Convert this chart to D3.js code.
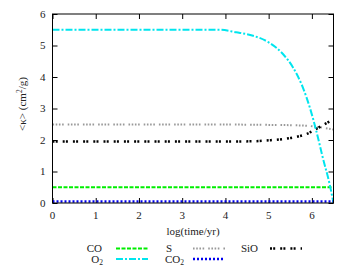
<!DOCTYPE html>
<html>
<head>
<meta charset="utf-8">
<script src="https://cdn.jsdelivr.net/npm/d3@7"></script>
<style>
  body { margin: 0; background: #fff; }
</style>
</head>
<body>
<div class="chart"></div>
<script>
// log(time/yr) samples and mean opacity <kappa> for each species
var xTicks = [0, 1, 2, 3, 4, 5, 6];
var yTicks = [0, 1, 2, 3, 4, 5, 6];

var coX = [0, 6.5];
var coY = [0.5, 0.5];

var o2X = [0, 1, 2, 3, 3.87, 4.25, 4.64, 5.0, 5.33, 5.56, 5.79, 5.95, 6.1, 6.25, 6.41, 6.49, 6.5];
var o2Y = [5.5, 5.5, 5.5, 5.5, 5.5, 5.42, 5.31, 5.1, 4.73, 4.31, 3.67, 3.04, 2.3, 1.45, 0.6, 0.07, 0];

var sX = [0, 1, 2, 3, 4, 5, 5.5, 5.9, 6.1, 6.3, 6.5];
var sY = [2.49, 2.49, 2.49, 2.49, 2.49, 2.48, 2.47, 2.45, 2.42, 2.38, 2.33];

var sioX = [0, 1, 2, 3, 4, 4.64, 5.0, 5.33, 5.64, 5.87, 6.1, 6.37, 6.5];
var sioY = [1.95, 1.95, 1.95, 1.95, 1.95, 1.96, 1.99, 2.03, 2.1, 2.19, 2.35, 2.56, 2.66];

var co2X = [0, 6.5];
var co2Y = [0.05, 0.05];

var w = 350, h = 271;
var pLeft = 52.5, pRight = 333.5, pTop = 14, pBottom = 203;

var svg = d3.select(".chart").append("svg")
    .attr("width", w).attr("height", h)
    .attr("font-family", "'Liberation Serif', 'Times New Roman', serif")
    .attr("fill", "#222");

var x = d3.scaleLinear().domain([0, 6.5]).range([pLeft, pRight]);
var y = d3.scaleLinear().domain([0, 6]).range([pBottom, pTop]);

svg.append("defs").append("clipPath").attr("id", "clip")
  .append("rect").attr("x", pLeft).attr("y", pTop - 2)
  .attr("width", pRight - pLeft).attr("height", pBottom - pTop + 2);

// ticks, mirrored inside on all four sides like gnuplot
var tk = 5;
svg.append("g").attr("transform", `translate(0,${pBottom})`)
  .call(d3.axisTop(x).tickValues(xTicks).tickSize(tk).tickFormat(""))
  .call(g => g.select(".domain").remove());
svg.append("g").attr("transform", `translate(0,${pTop})`)
  .call(d3.axisBottom(x).tickValues(xTicks).tickSize(tk).tickFormat(""))
  .call(g => g.select(".domain").remove());
svg.append("g").attr("transform", `translate(${pLeft},0)`)
  .call(d3.axisRight(y).tickValues(yTicks).tickSize(tk).tickFormat(""))
  .call(g => g.select(".domain").remove());
svg.append("g").attr("transform", `translate(${pRight},0)`)
  .call(d3.axisLeft(y).tickValues(yTicks).tickSize(tk).tickFormat(""))
  .call(g => g.select(".domain").remove());
svg.selectAll(".tick line").attr("stroke", "#000");

// tick labels
svg.append("g").selectAll("text").data(xTicks).enter().append("text")
  .attr("x", d => x(d)).attr("y", pBottom + 16)
  .attr("text-anchor", "middle").attr("font-size", 11)
  .text(d => d);
svg.append("g").selectAll("text").data(yTicks).enter().append("text")
  .attr("x", pLeft - 7).attr("y", d => y(d) + 3.5)
  .attr("text-anchor", "end").attr("font-size", 11)
  .text(d => d);

// series
var series = [
  {name: "CO", xs: coX, ys: coY, color: "#00ee00", width: 2, dash: "4,1.5"},
  {name: "S", xs: sX, ys: sY, color: "#999999", width: 2, dash: "1.6,1.6,1.6,1.6,1.6,1.6,1.6,4"},
  {name: "SiO", xs: sioX, ys: sioY, color: "#000000", width: 2.5, dash: "2,1.2,2,5"},
  {name: "O2", xs: o2X, ys: o2Y, color: "#00e5ee", width: 2, dash: "7,2,2,2"},
  {name: "CO2", xs: co2X, ys: co2Y, color: "#0000ee", width: 2.5, dash: "2,2"}
];

var line = d3.line().x(d => x(d[0])).y(d => y(d[1])).curve(d3.curveMonotoneX);

svg.append("g").attr("clip-path", "url(#clip)")
  .selectAll("path").data(series).enter().append("path")
  .attr("d", s => line(s.xs.map((v, i) => [v, s.ys[i]])))
  .attr("fill", "none")
  .attr("stroke", s => s.color)
  .attr("stroke-width", s => s.width)
  .attr("stroke-dasharray", s => s.dash);

// border
svg.append("rect").attr("x", pLeft).attr("y", pTop)
  .attr("width", pRight - pLeft).attr("height", pBottom - pTop)
  .attr("fill", "none").attr("stroke", "#000").attr("stroke-width", 1);

// axis titles
svg.append("text").attr("x", 193).attr("y", 235)
  .attr("text-anchor", "middle").attr("font-size", 11)
  .text("log(time/yr)");

var yl = svg.append("text")
  .attr("transform", "translate(26,104) rotate(-90)")
  .attr("text-anchor", "middle").attr("font-size", 11);
yl.append("tspan").text("<κ> (cm");
yl.append("tspan").attr("font-size", 7.5).attr("dy", -4).text("2");
yl.append("tspan").attr("dy", 4).text("/g)");

// legend
var legendPos = {
  "CO":  {tx: 102, sx: 116, row: 0},
  "S":   {tx: 172, sx: 193, row: 0},
  "SiO": {tx: 258, sx: 270, row: 0},
  "O2":  {tx: 103, sx: 116, row: 1},
  "CO2": {tx: 184, sx: 193, row: 1}
};
var rowY = [248.5, 259];

series.forEach(function(s) {
  var p = legendPos[s.name];
  var cy = rowY[p.row];
  var t = svg.append("text").attr("x", p.tx).attr("y", cy + 3.5)
    .attr("text-anchor", "end").attr("font-size", 11);
  if (s.name.endsWith("2")) {
    t.append("tspan").text(s.name.slice(0, -1));
    t.append("tspan").attr("font-size", 7.5).attr("dy", 2.5).text("2");
  } else {
    t.text(s.name);
  }
  svg.append("line")
    .attr("x1", p.sx).attr("x2", p.sx + 32)
    .attr("y1", cy).attr("y2", cy)
    .attr("stroke", s.color).attr("stroke-width", s.width)
    .attr("stroke-dasharray", s.dash);
});
</script>
</body>
</html>
